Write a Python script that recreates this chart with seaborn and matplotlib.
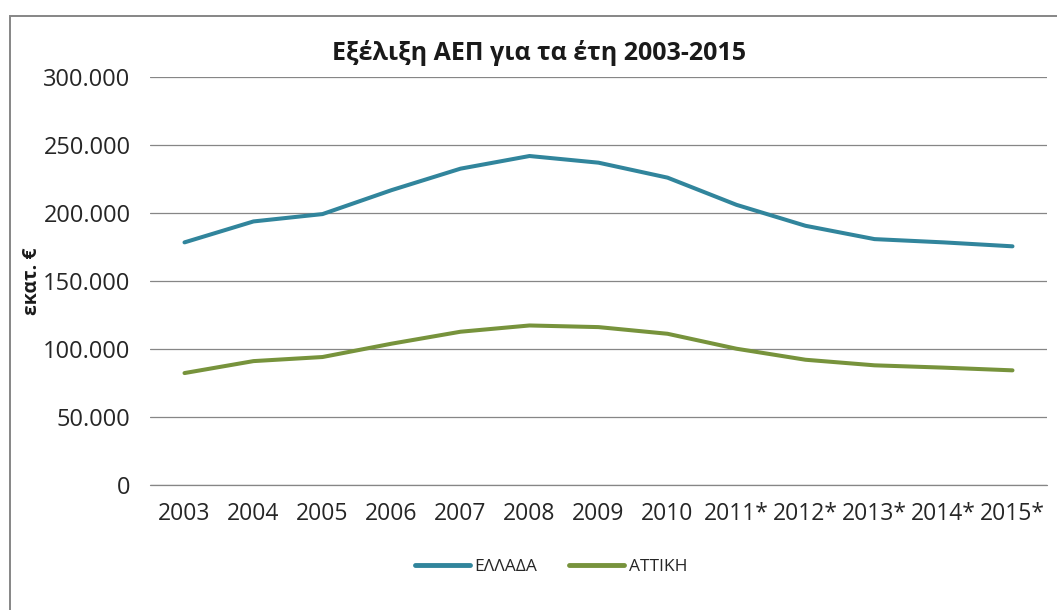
import pandas as pd
import matplotlib
matplotlib.use("Agg")
import matplotlib.pyplot as plt
import matplotlib.ticker as mticker
from matplotlib.patches import Rectangle
import seaborn as sns

# values (εκατ. €)
years = ["2003", "2004", "2005", "2006", "2007", "2008", "2009", "2010",
         "2011*", "2012*", "2013*", "2014*", "2015*"]
ellada = [178400, 193800, 199200, 216800, 232600, 241900, 237000, 226000,
          206000, 190600, 180800, 178400, 175500]
attiki = [82300, 91100, 94100, 103900, 112700, 117300, 116100, 111200,
          100200, 92100, 88000, 86300, 84300]
series_names = ["ΕΛΛΑΔΑ", "ΑΤΤΙΚΗ"]
colors = ["#31859C", "#77933C"]

df = pd.DataFrame({"Έτος": years * 2,
                   "ΑΕΠ": ellada + attiki,
                   "Σειρά": [series_names[0]] * len(years) + [series_names[1]] * len(years)})

sns.set_theme(style="white")
plt.rcParams['font.family'] = ['Open Sans', 'DejaVu Sans']

fig = plt.figure(figsize=(10.57, 6.10), dpi=100)
ax = fig.add_axes([150 / 1057, 1 - 485 / 610, 897 / 1057, 408 / 610])

sns.lineplot(data=df, x="Έτος", y="ΑΕΠ", hue="Σειρά", sort=False,
             palette=dict(zip(series_names, colors)), linewidth=2.9, ax=ax,
             legend=False, zorder=3)

ax.set_xlim(-0.5, len(years) - 0.5)
ax.set_ylim(0, 300000)
ax.set_yticks(range(0, 300001, 50000))
ax.yaxis.set_major_formatter(mticker.FuncFormatter(
    lambda v, p: f"{int(v):,}".replace(",", ".")))
ax.set_xticks(range(len(years)))
ax.set_xticklabels(years)
ax.grid(axis="y", color="#868686", linewidth=0.9)
ax.grid(axis="x", visible=False)
ax.axhline(0, color="#868686", linewidth=0.9, clip_on=False, zorder=1)
for s in ax.spines.values():
    s.set_visible(False)
ax.tick_params(axis="both", length=0, colors="#262626")
ax.tick_params(axis="y", pad=14, labelsize=17)
ax.tick_params(axis="x", pad=12, labelsize=16.5)
ax.set_xlabel("")
ax.set_ylabel("")

fig.text(539 / 1057, 1 - 53 / 610, "Εξέλιξη ΑΕΠ για τα έτη 2003-2015",
         ha="center", va="center", fontsize=18, fontweight="bold", color="#1a1a1a")
fig.text(32 / 1057, 1 - 281 / 610, "εκατ. €", rotation=90, ha="center",
         va="center", fontsize=14, fontweight="bold", color="#1a1a1a")

handles = [plt.Line2D([], [], color=c, linewidth=3.5) for c in colors]
fig.legend(handles, series_names, loc="center", bbox_to_anchor=(551 / 1057, 1 - 567 / 610),
           ncol=2, frameon=False, fontsize=12.5, handlelength=3.2, handletextpad=0.25,
           columnspacing=1.8)

fig.patches.append(Rectangle((10 / 1057, -0.05), 1.2, 1 - 15.5 / 610 + 0.05,
                             transform=fig.transFigure, fill=False,
                             edgecolor="#868686", linewidth=1.4))

fig.savefig("out.png", dpi=100, facecolor="white")
